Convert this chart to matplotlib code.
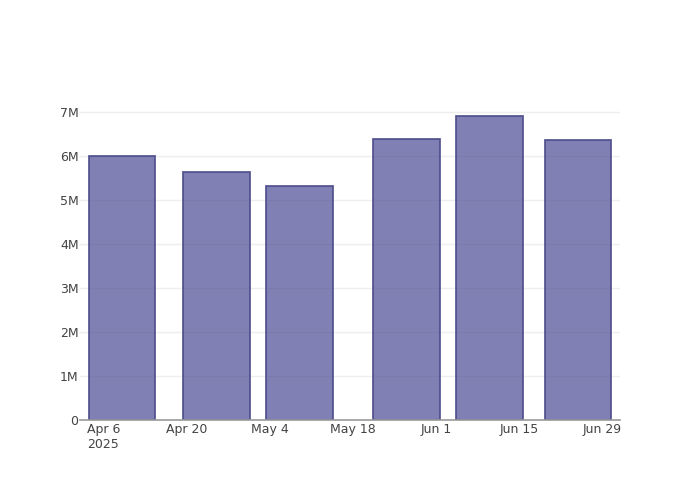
import matplotlib
matplotlib.use("Agg")
import matplotlib.pyplot as plt
import matplotlib.dates as mdates
import datetime as dt

dates = ["2025-04-09", "2025-04-25", "2025-05-09", "2025-05-27", "2025-06-10", "2025-06-25"]
values = [6.00e6, 5.64e6, 5.32e6, 6.39e6, 6.91e6, 6.36e6]
tick_dates = ["2025-04-06", "2025-04-20", "2025-05-04", "2025-05-18", "2025-06-01", "2025-06-15", "2025-06-29"]
tick_labels = ["Apr 6\n2025", "Apr 20", "May 4", "May 18", "Jun 1", "Jun 15", "Jun 29"]
y_ticks = [0, 1e6, 2e6, 3e6, 4e6, 5e6, 6e6, 7e6]
y_labels = ["0", "1M", "2M", "3M", "4M", "5M", "6M", "7M"]

plt.rcParams['font.family'] = ['DejaVu Sans']
fig = plt.figure(figsize=(7, 5), dpi=100)
ax = fig.add_axes([80/700, 80/500, 540/700, 320/500])

x = [mdates.date2num(dt.datetime.fromisoformat(d)) for d in dates]
ax.bar(x, values, width=11.2, color=(0.29, 0.29, 0.58, 0.7), edgecolor=(0.29, 0.29, 0.54, 0.9),
       linewidth=1.3, zorder=3)

x0 = mdates.date2num(dt.datetime(2025, 4, 6)) - 24/5.93
x1 = mdates.date2num(dt.datetime(2025, 6, 29)) + 18/5.93
ax.set_xlim(x0, x1)
ax.set_ylim(0, 7.27e6)

ax.set_xticks([mdates.date2num(dt.datetime.fromisoformat(d)) for d in tick_dates])
ax.set_xticklabels(tick_labels, ha='center', va='top', multialignment='left')
ax.set_yticks(y_ticks)
ax.set_yticklabels(y_labels)

ax.tick_params(axis='both', length=0, labelsize=9, colors='#444444')
ax.tick_params(axis='x', pad=2)
ax.tick_params(axis='y', pad=1)
ax.grid(axis='y', color='#eeeeee', linewidth=1, zorder=0)
for s in ['top', 'right', 'left']:
    ax.spines[s].set_visible(False)
ax.spines['bottom'].set_color('#999999')
ax.spines['bottom'].set_linewidth(1.2)
ax.spines['bottom'].set_zorder(4)

fig.savefig("out.png", dpi=100)
